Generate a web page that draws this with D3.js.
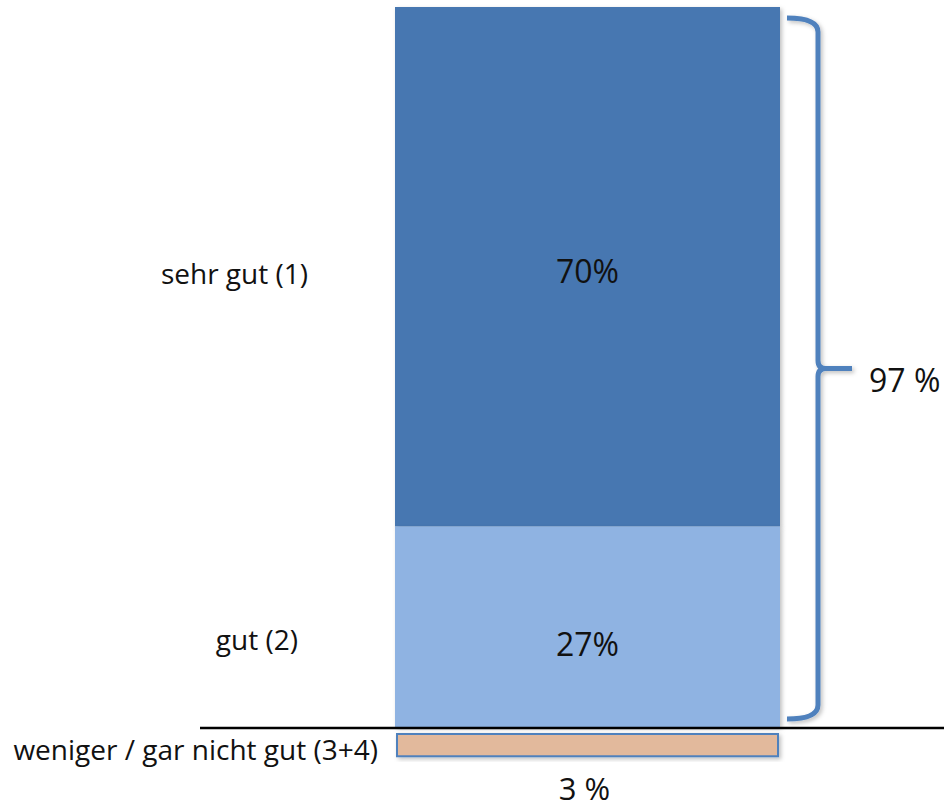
<!DOCTYPE html>
<html>
<head>
<meta charset="utf-8">
<script src="https://cdn.jsdelivr.net/npm/d3@7"></script>
<style>
  body { margin: 0; background: #fff; }
  text { font-family: "Open Sans", sans-serif; fill: #111; }
</style>
</head>
<body>
<div class="chart"></div>
<script>
var categories = ["sehr gut (1)", "gut (2)", "weniger / gar nicht gut (3+4)"];
var values = [70, 27, 3];
var valueLabels = ["70%", "27%", "3 %"];
var totalLabel = "97 %";
var colors = ["#4677b1", "#8fb3e2", "#e2b99c"];

var svg = d3.select(".chart")
  .append("svg")
  .attr("width", 944)
  .attr("height", 809);

// subtle shadow like the original
var defs = svg.append("defs");
var f = defs.append("filter").attr("id", "shadow")
  .attr("x", "-5%").attr("y", "-5%").attr("width", "115%").attr("height", "130%");
f.append("feDropShadow").attr("dx", 2).attr("dy", 2).attr("stdDeviation", 2)
  .attr("flood-color", "#000").attr("flood-opacity", 0.25);

// one scale for everything, top stack is 70 + 27
var top2 = values[0] + values[1];
var y = d3.scaleLinear().domain([0, top2]).range([727, 7]);
var x = d3.scaleBand().domain(["a"]).range([395, 780]);

var stack = [
  {v0: values[1], v1: values[1] + values[0], i: 0},
  {v0: 0, v1: values[1], i: 1}
];

svg.selectAll("rect.seg")
  .data(stack)
  .enter()
  .append("rect")
  .attr("class", "seg")
  .attr("x", x("a"))
  .attr("width", x.bandwidth())
  .attr("y", function(d) { return y(d.v1); })
  .attr("height", function(d) { return y(d.v0) - y(d.v1); })
  .attr("fill", function(d) { return colors[d.i]; })
  .attr("filter", "url(#shadow)");

var valOffset = [16, 29];
svg.selectAll("text.val")
  .data(stack)
  .enter()
  .append("text")
  .attr("class", "val")
  .attr("x", x("a") + x.bandwidth() / 2)
  .attr("y", function(d) { return (y(d.v0) + y(d.v1)) / 2 + valOffset[d.i]; })
  .attr("text-anchor", "middle")
  .attr("font-size", "32px")
  .text(function(d) { return valueLabels[d.i]; });

// baseline
svg.append("line")
  .attr("x1", 200).attr("x2", 944)
  .attr("y1", 728).attr("y2", 728)
  .attr("stroke", "#000").attr("stroke-width", 2.5);

// small bar below the line
var hSmall = y(0) - y(values[2]);
svg.append("rect")
  .attr("x", x("a") + 2)
  .attr("width", x.bandwidth() - 4)
  .attr("y", 734)
  .attr("height", hSmall)
  .attr("fill", colors[2])
  .attr("stroke", "#4f81bd")
  .attr("stroke-width", 2)
  .attr("filter", "url(#shadow)");

svg.append("text")
  .attr("x", x("a") + x.bandwidth() / 2 - 3)
  .attr("y", 800)
  .attr("text-anchor", "middle")
  .attr("font-size", "31px")
  .text(valueLabels[2]);

// category labels
var labelY = [284, 650, 760];
var labelX = [308, 298, 378];
svg.selectAll("text.cat")
  .data(categories)
  .enter()
  .append("text")
  .attr("class", "cat")
  .attr("x", function(d, i) { return labelX[i]; })
  .attr("y", function(d, i) { return labelY[i]; })
  .attr("text-anchor", "end")
  .attr("font-size", "28px")
  .text(function(d) { return d; });

// curly bracket for the 97 %
var bx = 818, bTop = 18, bBot = 719, bMid = (bTop + bBot) / 2;
var path = d3.path();
path.moveTo(787, bTop);
path.quadraticCurveTo(bx, bTop, bx, bTop + 14);
path.lineTo(bx, bMid - 8);
path.quadraticCurveTo(bx, bMid, bx + 8, bMid);
path.lineTo(852, bMid);
path.moveTo(bx + 8, bMid);
path.quadraticCurveTo(bx, bMid, bx, bMid + 8);
path.lineTo(bx, bBot - 14);
path.quadraticCurveTo(bx, bBot, 787, bBot);
svg.append("path")
  .attr("d", path.toString())
  .attr("fill", "none")
  .attr("stroke", "#4f81bd")
  .attr("stroke-width", 5)
  .attr("filter", "url(#shadow)");

svg.append("text")
  .attr("x", 869)
  .attr("y", 392)
  .attr("font-size", "32px")
  .text(totalLabel);
</script>
</body>
</html>
